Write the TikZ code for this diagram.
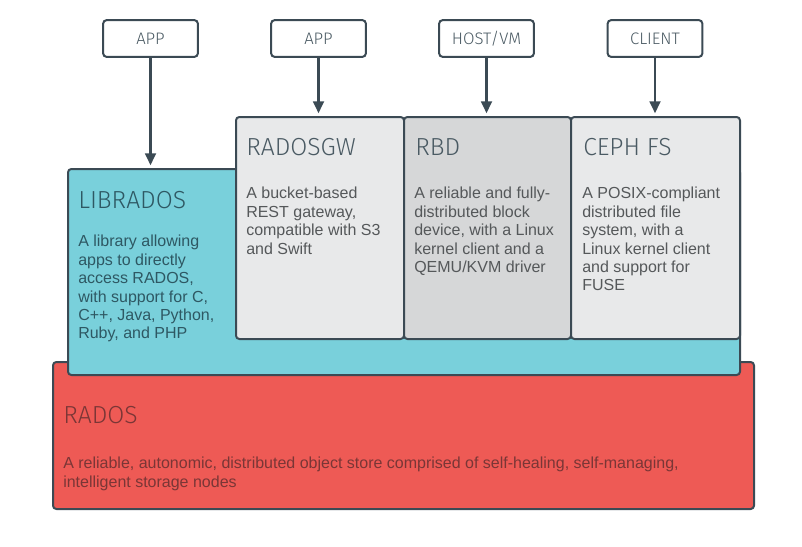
\documentclass[tikz,border=0pt]{standalone}
\usepackage{fontspec}
\setmainfont{Liberation Sans}
\newfontfamily\titlefont{Fira Sans Light}
\usetikzlibrary{arrows.meta}

\definecolor{edgegray}{HTML}{3B4A54}
\definecolor{libteal}{HTML}{79D0DB}
\definecolor{radosred}{HTML}{EE5A55}
\definecolor{boxgray}{HTML}{E8E9EA}
\definecolor{rbdgray}{HTML}{D6D7D8}
\definecolor{titlegray}{HTML}{4A5A63}
\definecolor{bodygray}{HTML}{55585A}
\definecolor{tealtext}{HTML}{2E5863}
\definecolor{redtext}{HTML}{7A3636}

\begin{document}
\begin{tikzpicture}[x=0.75pt,y=-0.75pt,line cap=round,line join=round]
  \tikzset{
    layer/.style={draw=edgegray,line width=1.5pt,rounded corners=2.5pt,anchor=north west,inner sep=0pt},
    client/.style={draw=edgegray,line width=1.5pt,rounded corners=2.5pt,fill=white,
      minimum width=71pt,minimum height=27.5pt,inner sep=0pt,
      font=\titlefont\fontsize{12.5}{14}\selectfont,text=titlegray},
    title/.style={anchor=base west,inner sep=0pt,font=\titlefont\fontsize{18.5}{20}\selectfont},
    body/.style={anchor=north west,inner sep=0pt,align=left,font=\fontsize{12}{13.8}\selectfont},
    feed/.style={draw=edgegray,line width=2pt,-{Triangle[width=8pt,length=9pt]},shorten >=2pt},
  }
  \useasboundingbox (0,0) rectangle (802,546);

  % ==================== RADOS ====================
  \node[layer,fill=radosred,minimum width=525.75pt,minimum height=110.25pt] (rados) at (52,361) {};
  \node[title,text=redtext] (radost) at (63,423) {RADOS};
  \node[body,text=redtext] (radosb) at (63,457)
    {A reliable, autonomic, distributed object store comprised of self-healing, self-managing,\\
     intelligent storage nodes};

  % ==================== LIBRADOS ====================
  \node[layer,fill=libteal,minimum width=504pt,minimum height=154.5pt] (librados) at (67,168) {};
  \node[title,text=tealtext] (libt) at (78,208) {LIBRADOS};
  \node[body,text=tealtext] (libb) at (78,235)
    {A library allowing\\apps to directly\\access RADOS,\\with support for C,\\C++, Java, Python,\\Ruby, and PHP};

  % ==================== RADOSGW / RBD / CEPH FS ====================
  \node[layer,fill=boxgray,minimum width=126pt,minimum height=166.5pt] (rgw) at (235,116) {};
  \node[layer,fill=rbdgray,minimum width=125.25pt,minimum height=166.5pt] (rbd) at (403,116) {};
  \node[layer,fill=boxgray,minimum width=126.75pt,minimum height=166.5pt] (cephfs) at (570,116) {};

  \node[title,text=titlegray] (rgwt) at (246,155) {RADOSGW};
  \node[title,text=titlegray] (rbdt) at (415,155) {RBD};
  \node[title,text=titlegray] (cepht) at (583,155) {CEPH FS};

  \node[body,text=bodygray] (rgwb) at (246,187)
    {A bucket-based\\REST gateway,\\compatible with S3\\and Swift};
  \node[body,text=bodygray] (rbdb) at (414,187)
    {A reliable and fully-\\distributed block\\device, with a Linux\\kernel client and a\\QEMU/KVM driver};
  \node[body,text=bodygray] (cephb) at (582,187)
    {A POSIX-compliant\\distributed file\\system, with a\\Linux kernel client\\and support for\\FUSE};

  % ==================== clients ====================
  \node[client] (app1) at (150.5,38.5) {APP};
  \node[client] (app2) at (318.5,38.5) {APP};
  \node[client] (host) at (486.5,38.5) {HOST/VM};
  \node[client] (client) at (655,38.5) {CLIENT};

  \draw[feed] (app1) -- (app1 |- librados.north);
  \draw[feed] (app2) -- (app2 |- rgw.north);
  \draw[feed] (host) -- (host |- rbd.north);
  \draw[feed] (client) -- (client |- cephfs.north);
\end{tikzpicture}
\end{document}
